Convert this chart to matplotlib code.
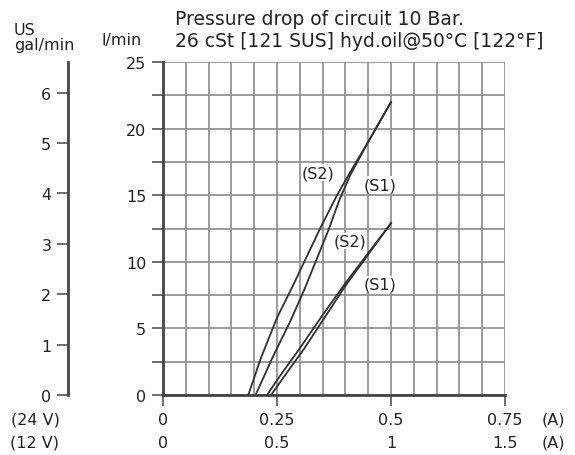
import numpy as np
import matplotlib
matplotlib.use("Agg")
from matplotlib import pyplot as plt
from matplotlib.transforms import blended_transform_factory

# current (A, 24 V coil) vs flow (l/min)
s2_upper_x = [0.187, 0.215, 0.25, 0.282, 0.344, 0.381, 0.41, 0.45, 0.50]
s2_upper_y = [0.0, 2.8, 5.8, 8.0, 12.46, 14.96, 16.7, 19.0, 22.0]
s1_upper_x = [0.203, 0.24, 0.28, 0.311, 0.363, 0.388, 0.412, 0.45, 0.50]
s1_upper_y = [0.0, 2.8, 5.6, 8.0, 12.4, 14.75, 16.6, 19.0, 22.0]
s2_lower_x = [0.228, 0.26, 0.30, 0.35, 0.40, 0.45, 0.50]
s2_lower_y = [0.0, 1.6, 3.5, 6.0, 8.4, 10.65, 12.9]
s1_lower_x = [0.237, 0.27, 0.31, 0.36, 0.40, 0.45, 0.50]
s1_lower_y = [0.0, 1.6, 3.5, 6.1, 8.2, 10.55, 12.9]

x_ticks = [0, 0.25, 0.5, 0.75]
labels_24v = ["0", "0.25", "0.5", "0.75"]
labels_12v = ["0", "0.5", "1", "1.5"]
gal_ticks = [0, 1, 2, 3, 4, 5, 6]
L_PER_GAL = 3.785

plt.rcParams['font.family'] = ['DejaVu Sans']
txt = "#222222"
fs = 11.5

fig = plt.figure(figsize=(5.75, 4.56), dpi=100)
ax = fig.add_axes([163/575, 60/456, 342/575, 333/456])

ax.set_xlim(0, 0.75)
ax.set_ylim(0, 25)
ax.set_xticks(x_ticks)
ax.set_xticks(np.arange(0, 0.76, 0.05), minor=True)
ax.set_yticks(range(0, 26, 5))
ax.set_yticks(np.arange(0, 25.1, 2.5), minor=True)
ax.grid(which="both", color="#939393", linewidth=1.3)
ax.set_axisbelow(True)
ax.tick_params(axis="x", which="major", length=8, width=1.2, color="#555555", labelbottom=False)
ax.tick_params(axis="x", which="minor", length=0)
ax.tick_params(axis="y", which="both", length=8, width=1.2, color="#555555",
               labelsize=fs, labelcolor=txt, pad=4)
for s in ["top", "right"]:
    ax.spines[s].set_visible(False)
for s in ["left", "bottom"]:
    ax.spines[s].set_color("#444444")
    ax.spines[s].set_linewidth(2)

for xs, ys in [(s2_upper_x, s2_upper_y), (s1_upper_x, s1_upper_y),
               (s2_lower_x, s2_lower_y), (s1_lower_x, s1_lower_y)]:
    ax.plot(xs, ys, color="#303030", linewidth=1.3, zorder=3, solid_joinstyle="round")

bb = dict(facecolor="white", edgecolor="none", pad=0.5)
ax.text(0.340, 16.7, "(S2)", fontsize=fs, color=txt, ha="center", va="center", bbox=bb, zorder=4)
ax.text(0.476, 15.8, "(S1)", fontsize=fs, color=txt, ha="center", va="center", bbox=bb, zorder=4)
ax.text(0.410, 11.55, "(S2)", fontsize=fs, color=txt, ha="center", va="center", bbox=bb, zorder=4)
ax.text(0.476, 8.33, "(S1)", fontsize=fs, color=txt, ha="center", va="center", bbox=bb, zorder=4)

# US gal/min scale on the left
gal = ax.secondary_yaxis((68 - 163) / 342, functions=(lambda l: l / L_PER_GAL, lambda g: g * L_PER_GAL))
gal.set_yticks(gal_ticks)
gal.tick_params(length=8, width=1.2, color="#555555", labelsize=fs, labelcolor=txt, pad=4)
gal.spines["left"].set_color("#444444")
gal.spines["left"].set_linewidth(2)

# two rows of current labels
tr = blended_transform_factory(ax.transData, fig.transFigure)
for xv, a, b in zip(x_ticks, labels_24v, labels_12v):
    ax.text(xv, 1 - 425/456, a, transform=tr, ha="center", va="baseline", fontsize=fs, color=txt)
    ax.text(xv, 1 - 448/456, b, transform=tr, ha="center", va="baseline", fontsize=fs, color=txt)
fig.text(553/575, 1 - 425/456, "(A)", ha="center", va="baseline", fontsize=fs, color=txt)
fig.text(553/575, 1 - 448/456, "(A)", ha="center", va="baseline", fontsize=fs, color=txt)
fig.text(35/575, 1 - 425/456, "(24 V)", ha="center", va="baseline", fontsize=fs, color=txt)
fig.text(35/575, 1 - 448/456, "(12 V)", ha="center", va="baseline", fontsize=fs, color=txt)

# axis titles
fig.text(14/575, 1 - 35/456, "US", ha="left", va="baseline", fontsize=fs, color=txt)
fig.text(14/575, 1 - 50/456, "gal/min", ha="left", va="baseline", fontsize=fs, color=txt)
fig.text(122/575, 1 - 45/456, "l/min", ha="center", va="baseline", fontsize=fs, color=txt)

fig.text(175/575, 1 - 25/456, "Pressure drop of circuit 10 Bar.", ha="left", va="baseline",
         fontsize=13.5, color=txt)
fig.text(175/575, 1 - 47/456, "26 cSt [121 SUS] hyd.oil@50°C [122°F]", ha="left", va="baseline",
         fontsize=13.5, color=txt)

fig.savefig("out.png", dpi=100, facecolor="white")
